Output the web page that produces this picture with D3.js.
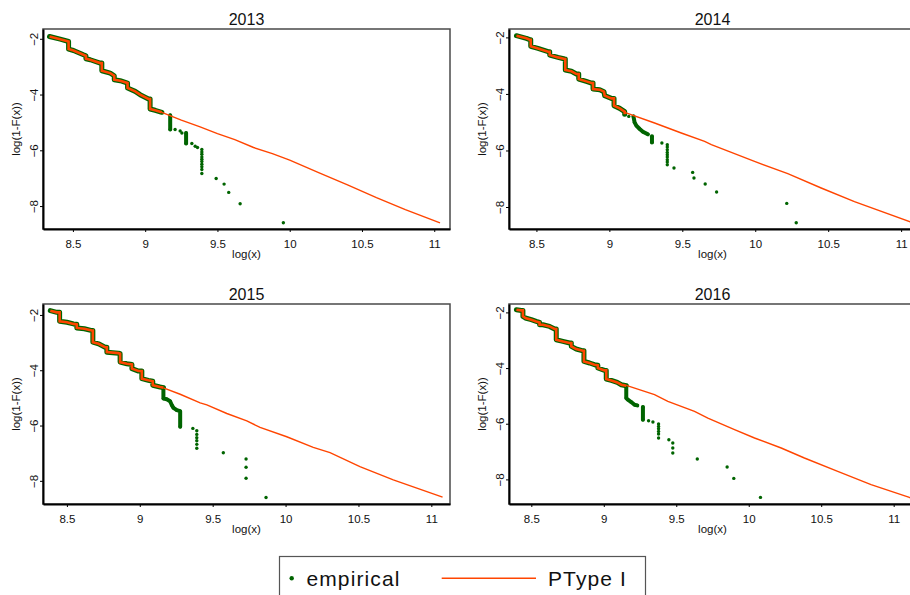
<!DOCTYPE html>
<html><head><meta charset="utf-8">
<script src="https://cdn.jsdelivr.net/npm/d3@7"></script>
<style>body{margin:0;background:#fff;} svg{display:block;font-family:"Liberation Sans",Arial,sans-serif;}</style>
</head><body><svg id="c" width="910" height="595"></svg>
<script>
// ---------------- data ----------------
const years = ["2013", "2014", "2015", "2016"];
const xTicks = [8.5, 9, 9.5, 10, 10.5, 11];
const yTicks = [-2, -4, -6, -8];
const xMin = [8.293, 8.312, 8.336, 8.346];
const xMax = [11.109, 11.102, 11.128, 11.154];
const yMin = [-8.823, -8.778, -8.838, -8.884];
const yMax = [-1.649, -1.703, -1.604, -1.698];
const legendLabels = ["empirical", "PType I"];

// empirical points, grouped in runs of densely packed observations
const emp2013 = [
  [[8.338,-1.918],[8.412,-2.013],[8.470,-2.097],[8.470,-2.371],[8.504,-2.419],[8.573,-2.574],[8.590,-2.609],[8.590,-2.717],[8.620,-2.752],[8.689,-2.872],[8.700,-2.872],[8.700,-3.146],[8.758,-3.230],[8.786,-3.325],[8.786,-3.468],[8.827,-3.504],[8.878,-3.587],[8.878,-3.766],[8.931,-3.886],[8.965,-4.005],[9.023,-4.160],[9.034,-4.160],[9.034,-4.518],[9.069,-4.565],[9.115,-4.637]],
  [[9.173,-4.744],[9.173,-5.256]],
  [[9.207,-5.256]],[[9.242,-5.305]],[[9.254,-5.377]],
  [[9.283,-5.377],[9.283,-5.757]],
  [[9.323,-5.757]],[[9.346,-5.853]],[[9.362,-5.900]],
  [[9.392,-5.974]],[[9.392,-6.057]],[[9.392,-6.140]],[[9.392,-6.236]],[[9.392,-6.318]],[[9.392,-6.401]],[[9.392,-6.497]],[[9.392,-6.592]],[[9.392,-6.688]],[[9.392,-6.831]],
  [[9.491,-7.009]],[[9.546,-7.213]],[[9.578,-7.510]],[[9.657,-7.918]],[[9.956,-8.597]]
];
const emp2014 = [
  [[8.363,-1.940],[8.431,-2.034],[8.454,-2.081],[8.461,-2.081],[8.461,-2.317],[8.511,-2.389],[8.580,-2.506],[8.591,-2.506],[8.591,-2.624],[8.648,-2.707],[8.694,-2.765],[8.698,-2.765],[8.698,-3.154],[8.740,-3.200],[8.774,-3.296],[8.790,-3.296],[8.790,-3.473],[8.842,-3.556],[8.877,-3.614],[8.888,-3.614],[8.888,-3.826],[8.934,-3.850],[8.963,-3.921],[8.968,-4.062],[9.014,-4.158],[9.032,-4.158],[9.032,-4.416],[9.071,-4.511],[9.105,-4.628],[9.105,-4.720]],
  [[9.133,-4.794]],
  [[9.165,-4.794],[9.173,-5.006],[9.185,-5.123],[9.208,-5.240],[9.230,-5.336],[9.264,-5.430]],
  [[9.292,-5.500],[9.292,-5.714]],
  [[9.360,-5.736]],
  [[9.397,-5.795]],[[9.397,-5.877]],[[9.397,-5.972]],[[9.397,-6.068]],[[9.397,-6.149]],[[9.397,-6.231]],[[9.397,-6.326]],[[9.397,-6.407]],[[9.397,-6.503]],
  [[9.443,-6.620]],[[9.571,-6.775]],[[9.580,-6.974]],[[9.657,-7.186]],[[9.735,-7.469]],[[10.216,-7.872]],[[10.281,-8.555]]
];
const emp2015 = [
  [[8.386,-1.845],[8.431,-1.906],[8.450,-1.906],[8.450,-2.230],[8.500,-2.266],[8.545,-2.324],[8.568,-2.340],[8.568,-2.470],[8.620,-2.500],[8.671,-2.565],[8.678,-2.565],[8.678,-2.986],[8.717,-3.044],[8.762,-3.166],[8.774,-3.166],[8.774,-3.346],[8.854,-3.382],[8.865,-3.400],[8.865,-3.706],[8.911,-3.764],[8.946,-3.789],[8.946,-3.944],[8.991,-4.030],[9.014,-4.030],[9.014,-4.304],[9.059,-4.365],[9.089,-4.400],[9.089,-4.545],[9.139,-4.606],[9.162,-4.628]],
  [[9.162,-4.628],[9.162,-5.024],[9.185,-5.050],[9.208,-5.121],[9.220,-5.265],[9.231,-5.362],[9.254,-5.445],[9.277,-5.481],[9.277,-6.046]],
  [[9.364,-6.104]],
  [[9.391,-6.190]],[[9.391,-6.320]],[[9.391,-6.440]],[[9.391,-6.550]],[[9.391,-6.680]],[[9.391,-6.824]],
  [[9.573,-6.982]],[[9.729,-7.209]],[[9.729,-7.508]],[[9.729,-7.904]],[[9.866,-8.602]]
];
const emp2016 = [
  [[8.397,-1.903],[8.431,-1.928],[8.442,-1.928],[8.442,-2.144],[8.459,-2.201],[8.500,-2.262],[8.534,-2.323],[8.557,-2.359],[8.557,-2.440],[8.580,-2.442],[8.626,-2.503],[8.661,-2.597],[8.672,-2.597],[8.672,-2.981],[8.718,-3.042],[8.764,-3.100],[8.776,-3.100],[8.776,-3.222],[8.810,-3.316],[8.856,-3.380],[8.863,-3.380],[8.863,-3.761],[8.902,-3.818],[8.936,-3.879],[8.959,-3.900],[8.959,-3.998],[9.005,-4.084],[9.017,-4.084],[9.017,-4.393],[9.052,-4.443],[9.093,-4.515],[9.121,-4.598],[9.155,-4.634]],
  [[9.155,-4.634],[9.155,-5.076],[9.166,-5.137],[9.189,-5.220],[9.212,-5.317],[9.231,-5.342]],
  [[9.270,-5.400],[9.270,-5.856]],
  [[9.309,-5.891]],[[9.339,-5.940]],
  [[9.378,-6.010]],[[9.378,-6.096]],[[9.378,-6.179]],[[9.378,-6.276]],[[9.378,-6.369]],[[9.378,-6.513]],
  [[9.449,-6.574]],
  [[9.476,-6.693]],[[9.476,-6.872]],[[9.476,-7.052]],
  [[9.645,-7.268]],[[9.851,-7.555]],[[9.897,-7.965]],[[10.081,-8.647]]
];

// fitted PType I curve beyond the stepped (fitted-on-sample) part
const fitTail2013 = [[9.115,-4.637],[9.250,-4.920],[9.380,-5.160],[9.500,-5.400],[9.620,-5.620],[9.750,-5.900],[9.880,-6.120],[10.000,-6.354],[10.200,-6.800],[10.400,-7.240],[10.600,-7.700],[10.800,-8.130],[11.040,-8.600]];
const fitTail2014 = [[9.105,-4.650],[9.310,-5.029],[9.493,-5.382],[9.653,-5.679],[9.699,-5.796],[9.836,-6.068],[9.995,-6.386],[10.223,-6.820],[10.452,-7.327],[10.680,-7.810],[11.072,-8.544],[11.100,-8.600]];
const fitTail2015 = [[9.162,-4.640],[9.277,-4.869],[9.414,-5.182],[9.460,-5.254],[9.597,-5.565],[9.734,-5.830],[9.825,-6.068],[10.008,-6.406],[10.190,-6.788],[10.305,-6.982],[10.510,-7.486],[10.739,-7.965],[11.077,-8.588]];
const fitTail2016 = [[9.155,-4.620],[9.350,-4.957],[9.442,-5.198],[9.626,-5.557],[9.718,-5.795],[9.902,-6.215],[10.040,-6.513],[10.224,-6.872],[10.384,-7.231],[10.614,-7.713],[10.844,-8.190],[11.108,-8.647],[11.140,-8.710]];

const empData = [emp2013, emp2014, emp2015, emp2016];
const fitTails = [fitTail2013, fitTail2014, fitTail2015, fitTail2016];

// ---------------- drawing ----------------
const GREEN = "#006400", ORANGE = "#ff4500";
const svg = d3.select("#c");
svg.append("rect").attr("width", 910).attr("height", 595).attr("fill", "#fff");
const W = 407, H = 200;
const pos = [[43, 29], [509, 29], [43, 304], [509, 304]];

years.forEach((yr, i) => {
  const [px, py] = pos[i];
  const g = svg.append("g").attr("transform", `translate(${px},${py})`);
  const x = d3.scaleLinear().domain([xMin[i], xMax[i]]).range([0, W]);
  const y = d3.scaleLinear().domain([yMin[i], yMax[i]]).range([H, 0]);

  g.append("rect").attr("width", W).attr("height", H)
    .attr("fill", "#fff").attr("stroke", "#4a4a4a").attr("stroke-width", 1.5);

  const line = d3.line().x(d => x(d[0])).y(d => y(d[1]));
  const runs = empData[i];

  // empirical: dense runs
  runs.forEach((run, k) => {
    if (run.length > 1) {
      g.append("path").attr("d", line(run)).attr("fill", "none")
        .attr("stroke", GREEN).attr("stroke-width", k === 0 ? 5 : 4)
        .attr("stroke-linejoin", "round").attr("stroke-linecap", "round");
    }
  });
  // empirical: points
  g.append("g").selectAll("circle").data(runs.flat()).join("circle")
    .attr("cx", d => x(d[0])).attr("cy", d => y(d[1])).attr("r", 1.7).attr("fill", GREEN);

  // fitted curve: stepped part then tail
  g.append("path").attr("d", line(runs[0])).attr("fill", "none")
    .attr("stroke", ORANGE).attr("stroke-width", 2.6).attr("stroke-linejoin", "miter");
  g.append("path").attr("d", line(fitTails[i])).attr("fill", "none")
    .attr("stroke", ORANGE).attr("stroke-width", 1.4);

  // axes
  const xa = g.append("g").attr("transform", `translate(0,${H})`)
    .call(d3.axisBottom(x).tickValues(xTicks).tickSize(3).tickSizeOuter(0).tickPadding(8).tickFormat(d3.format("")));
  xa.select(".domain").attr("stroke", "#000").attr("stroke-width", 2);
  xa.selectAll(".tick line").attr("stroke", "#000");
  xa.selectAll("text").attr("font-size", 11.5).attr("fill", "#111")
    .attr("font-family", "Liberation Sans, Arial, sans-serif");

  const ya = g.append("g")
    .call(d3.axisLeft(y).tickValues(yTicks).tickSize(3).tickSizeOuter(0).tickFormat(d3.format("")));
  ya.select(".domain").attr("stroke", "#000").attr("stroke-width", 2);
  ya.selectAll(".tick line").attr("stroke", "#000");
  ya.selectAll("text").attr("font-size", 11.5).attr("fill", "#111")
    .attr("font-family", "Liberation Sans, Arial, sans-serif")
    .attr("transform", "rotate(-90)").attr("x", 0).attr("y", -5.5).attr("dy", 0)
    .attr("text-anchor", "middle");

  // titles
  g.append("text").attr("x", W / 2).attr("y", -4).attr("text-anchor", "middle")
    .attr("font-size", 16).attr("fill", "#111").text(yr);
  g.append("text").attr("x", W / 2).attr("y", H + 28.5).attr("text-anchor", "middle")
    .attr("font-size", 11.5).attr("fill", "#111").text("log(x)");
  g.append("text").attr("transform", `translate(${-23.5},${H / 2}) rotate(-90)`)
    .attr("text-anchor", "middle").attr("font-size", 11.5).attr("fill", "#111").text("log(1-F(x))");
});

// legend
const lg = svg.append("g");
lg.append("rect").attr("x", 279.5).attr("y", 556.5).attr("width", 366).attr("height", 60)
  .attr("fill", "#fff").attr("stroke", "#555").attr("stroke-width", 1.2);
lg.append("circle").attr("cx", 291.7).attr("cy", 578.3).attr("r", 2.2).attr("fill", GREEN);
lg.append("text").attr("x", 306.5).attr("y", 585.5).attr("font-size", 21)
  .attr("letter-spacing", 1.1).attr("fill", "#111").text(legendLabels[0]);
lg.append("line").attr("x1", 441.7).attr("x2", 536).attr("y1", 578.3).attr("y2", 578.3)
  .attr("stroke", ORANGE).attr("stroke-width", 1.6);
lg.append("text").attr("x", 548).attr("y", 585.5).attr("font-size", 21)
  .attr("letter-spacing", 1.1).attr("fill", "#111").text(legendLabels[1]);
</script>
</body></html>
